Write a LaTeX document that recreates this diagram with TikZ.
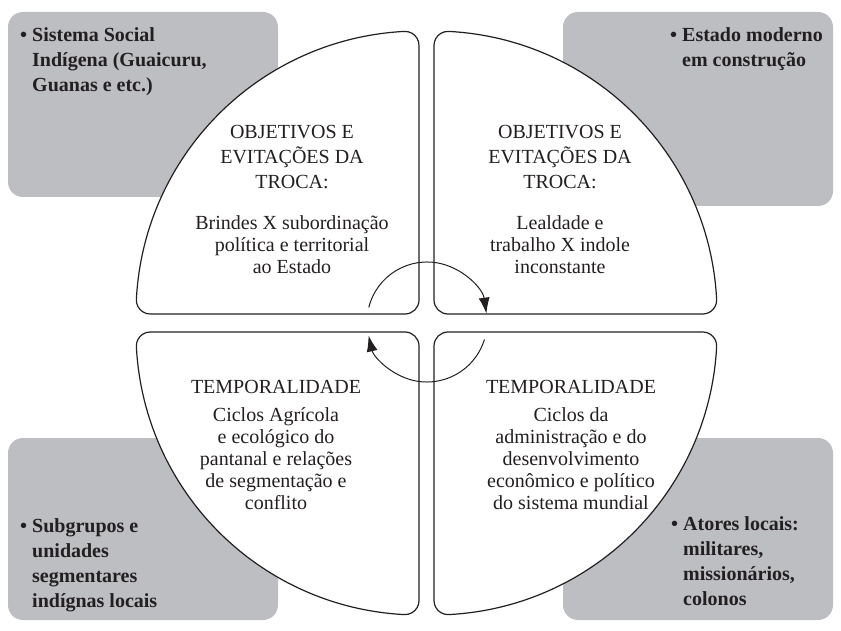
\documentclass[tikz,border=0pt]{standalone}
\usepackage{fontspec}
\setmainfont{Liberation Serif}
\usetikzlibrary{arrows.meta}

\definecolor{boxgray}{RGB}{189,190,194}
\definecolor{ink}{RGB}{35,31,32}

% quarter disc with rounded corners, inner corner at the origin
\newcommand{\quarter}{%
  (0,14) -- (0,268.6)
  arc[start angle=0, end angle=92.98, radius=14]
  arc[start angle=92.98, end angle=177.02, radius=283]
  arc[start angle=177.02, end angle=270, radius=14]
  -- (-14,0)
  arc[start angle=270, end angle=360, radius=14] -- cycle}

\begin{document}
\begin{tikzpicture}[x=1pt,y=1pt,
    graybox/.style={fill=boxgray, rounded corners=15pt},
    quad/.style={fill=white, draw=ink, line width=1.2pt},
    head/.style={align=center, inner sep=0pt, text=ink, font=\fontsize{20}{25}\selectfont},
    body/.style={align=center, inner sep=0pt, text=ink, font=\fontsize{20}{22}\selectfont},
    actor/.style={anchor=base west, inner sep=0pt, text=ink, font=\bfseries\fontsize{20}{25}\selectfont},
    turn/.style={draw=ink, line width=1pt, -{Latex[length=16pt,width=11pt]}}]
			\useasboundingbox (0,0) rectangle (841,630);

			\coordinate (tl) at (419,316);
			\coordinate (tr) at (434,316);
			\coordinate (bl) at (419,298);
			\coordinate (br) at (434,298);
			\coordinate (mid) at (427,308);

			\fill[graybox] (8,433) rectangle (278,618);
			\fill[graybox] (563,424) rectangle (833,618);
			\fill[graybox] (8,10) rectangle (278,192);
			\fill[graybox] (563,10) rectangle (833,192);

			\begin{scope}[shift={(tl)}]
				\path[quad] \quarter;
			\end{scope}
			\begin{scope}[shift={(tr)}, xscale=-1]
				\path[quad] \quarter;
			\end{scope}
			\begin{scope}[shift={(bl)}, yscale=-1]
				\path[quad] \quarter;
			\end{scope}
			\begin{scope}[shift={(br)}, xscale=-1, yscale=-1]
				\path[quad] \quarter;
			\end{scope}

			\node[actor] (indig) at (20,588) {\begin{tabular}[t]{@{}l@{\hspace{5pt}}l@{}}\textbullet & Sistema Social\\ & Indígena (Guaicuru,\\ & Guanas e etc.)\end{tabular}};
			\node[actor] (estado) at (670,588) {\begin{tabular}[t]{@{}l@{\hspace{5pt}}l@{}}\textbullet & Estado moderno\\ & em construção\end{tabular}};
			\node[actor] (subgr) at (20,98) {\begin{tabular}[t]{@{}l@{\hspace{5pt}}l@{}}\textbullet & Subgrupos e\\ & unidades\\ & segmentares\\ & indígnas locais\end{tabular}};
			\node[actor] (atores) at (671,100) {\begin{tabular}[t]{@{}l@{\hspace{5pt}}l@{}}\textbullet & Atores locais:\\ & militares,\\ & missionários,\\ & colonos\end{tabular}};

			\node[head] (tlhead) at (292,473) {OBJETIVOS E\\EVITAÇÕES DA\\TROCA:};
			\node[body] (tlbody) at (292,385) {Brindes X subordinação\\política e territorial\\ao Estado};
			\node[head] (trhead) at (560,473) {OBJETIVOS E\\EVITAÇÕES DA\\TROCA:};
			\node[body] (trbody) at (560,385) {Lealdade e\\trabalho X indole\\inconstante};
			\node[head] (blhead) at (276,243) {TEMPORALIDADE};
			\node[body] (blbody) at (276,171) {Ciclos Agrícola\\e ecológico do\\pantanal e relações\\de segmentação e\\conflito};
			\node[head] (brhead) at (571,243) {TEMPORALIDADE};
			\node[body] (brbody) at (571,171) {Ciclos da\\administração e do\\desenvolvimento\\econômico e político\\do sistema mundial};

			\draw[turn] ([shift={(166:60)}]mid) arc[start angle=166, end angle=8, radius=60];
			\draw[turn] ([shift={(-17:60)}]mid) arc[start angle=-17, end angle=-167, radius=60];
		\end{tikzpicture}
\end{document}
